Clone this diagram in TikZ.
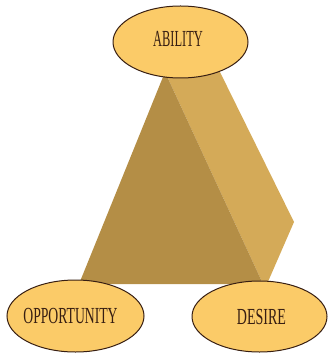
\documentclass[tikz,border=0pt]{standalone}
\usepackage{fontspec}
\setmainfont{Liberation Serif}
\usetikzlibrary{shapes.geometric}
\definecolor{frontface}{RGB}{180,142,70}
\definecolor{sideface}{RGB}{212,170,88}
\definecolor{ovalfill}{RGB}{251,203,104}
\definecolor{ovalline}{RGB}{55,30,18}
\begin{document}
\begin{tikzpicture}[x=1pt,y=-1pt,
  oval/.style={ellipse, draw=ovalline, line width=1pt, fill=ovalfill, inner sep=0pt},
  word/.style={inner sep=0pt, text=ovalline, font=\fontsize{23}{23}\selectfont}]
\useasboundingbox (0,0) rectangle (329,355);
% pyramid
\fill[sideface] (165,72) -- (217,66) -- (294,222) -- (267,284) -- (263,284) -- cycle;
\fill[frontface] (165,72) -- (79,284) -- (263,284) -- cycle;
% ovals
\node[oval, minimum width=135pt, minimum height=72pt] (ability) at (180.5,42) {};
\node[oval, minimum width=137pt, minimum height=72pt] (opportunity) at (75.5,316) {};
\node[oval, minimum width=135pt, minimum height=71pt] (desire) at (259.5,316.5) {};
% labels
\node[word] (abilitytext) at (178,39) {\scalebox{0.54}[1]{ABILITY}};
\node[word] (opportunitytext) at (70.5,315.5) {\scalebox{0.595}[1]{OPPORTUNITY}};
\node[word] (desiretext) at (261.5,316.5) {\scalebox{0.61}[1]{DESIRE}};
\end{tikzpicture}
\end{document}
